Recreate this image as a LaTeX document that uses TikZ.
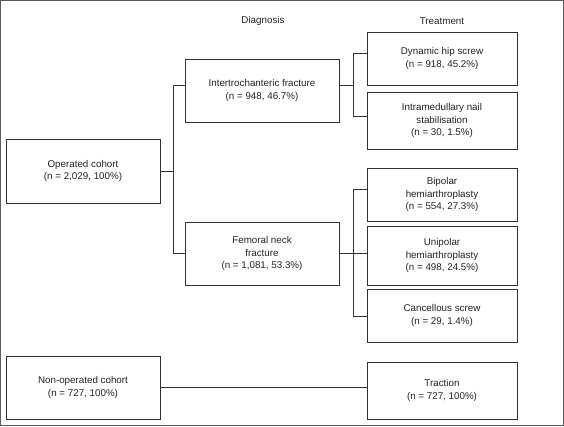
\documentclass[tikz,border=0pt]{standalone}
\usepackage{fontspec}
\setmainfont{Liberation Sans}
\definecolor{linec}{HTML}{333333}
\definecolor{textc}{HTML}{222222}
\begin{document}
\begin{tikzpicture}[x=1pt,y=-1pt,
  box/.style={draw=linec,line width=0.9pt,rectangle,inner sep=0pt,align=center,text=textc,
    font=\fontsize{9.8}{12.7}\selectfont},
  conn/.style={draw=linec,line width=0.9pt},
  lbl/.style={text=textc,font=\fontsize{9.8}{12.7}\selectfont}]
\useasboundingbox (0,0) rectangle (564,426);
\draw[draw=black!65,line width=0.9pt] (0.6,0.6) rectangle (563.4,425.4);
\node[lbl] (diag) at (263,21) {Diagnosis};
\node[lbl] (treat) at (442,21) {Treatment};
\node[box,minimum width=154pt,minimum height=64pt] (op) at (83,171) {Operated cohort\\(n = 2,029, 100\%)};
\node[box,minimum width=154pt,minimum height=63pt] (it) at (262,90.5) {Intertrochanteric fracture\\(n = 948, 46.7\%)};
\node[box,minimum width=154pt,minimum height=63pt] (fn) at (262,253.5) {Femoral neck\\fracture\\(n = 1,081, 53.3\%)};
\node[box,minimum width=150pt,minimum height=53pt] (dhs) at (442,58.5) {Dynamic hip screw\\(n = 918, 45.2\%)};
\node[box,minimum width=150pt,minimum height=57pt] (im) at (442,120.5) {Intramedullary nail\\stabilisation\\(n = 30, 1.5\%)};
\node[box,minimum width=150pt,minimum height=53pt] (bp) at (442,194.5) {Bipolar\\hemiarthroplasty\\(n = 554, 27.3\%)};
\node[box,minimum width=150pt,minimum height=59pt] (up) at (442,255.5) {Unipolar\\hemiarthroplasty\\(n = 498, 24.5\%)};
\node[box,minimum width=150pt,minimum height=53pt] (cs) at (442,315.5) {Cancellous screw\\(n = 29, 1.4\%)};
\node[box,minimum width=154pt,minimum height=63pt] (no) at (83,387.5) {Non-operated cohort\\(n = 727, 100\%)};
\node[box,minimum width=150pt,minimum height=57pt] (tr) at (442,390.5) {Traction\\(n = 727, 100\%)};
\coordinate (t1) at (173,85);
\coordinate (b1) at (173,253);
\coordinate (t2) at (353,53);
\coordinate (b2) at (353,116);
\coordinate (t3) at (353,189);
\coordinate (b3) at (353,316);
\draw[conn] (op.east) -- (op.east -| t1);
\draw[conn] (it.west |- t1) -- (t1) -- (b1) -- (fn.west |- b1);
\draw[conn] (it.east |- t1) -- (t1 -| t2);
\draw[conn] (dhs.west |- t2) -- (t2) -- (b2) -- (im.west |- b2);
\draw[conn] (fn.east |- b1) -- (up.west |- b1);
\draw[conn] (bp.west |- t3) -- (t3) -- (b3) -- (cs.west |- b3);
\draw[conn] (no.east) -- (no.east -| tr.west);
\end{tikzpicture}
\end{document}
